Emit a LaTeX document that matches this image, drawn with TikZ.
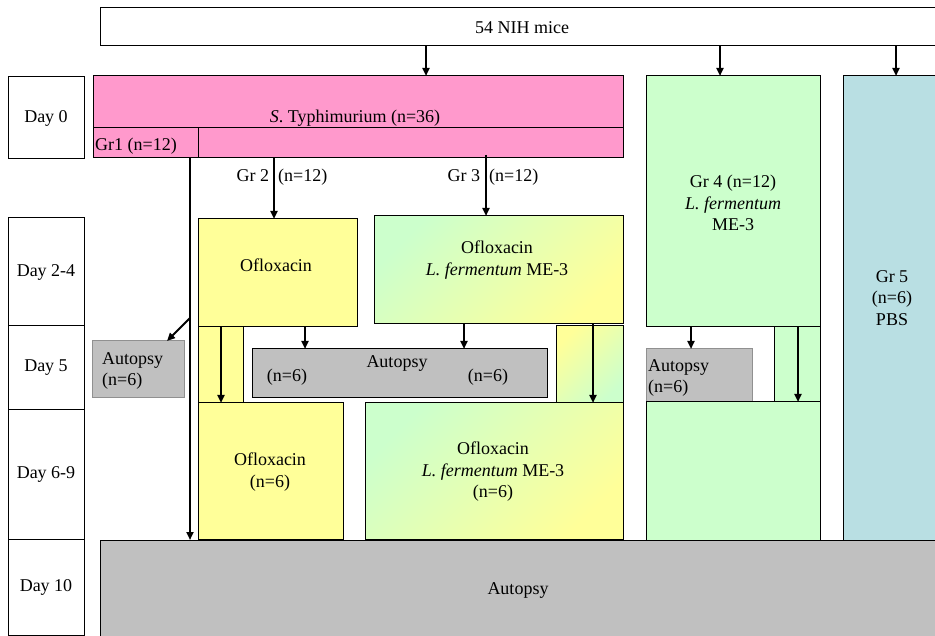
\documentclass[tikz,border=0pt]{standalone}
\usepackage{fontspec}
\setmainfont{Liberation Serif}
\usetikzlibrary{arrows.meta}
\definecolor{cPink}{HTML}{FF99CC}
\definecolor{cYellow}{HTML}{FFFF99}
\definecolor{cGreen}{HTML}{CCFFCC}
\definecolor{cBlue}{HTML}{B9DFE3}
\definecolor{cGray}{HTML}{C0C0C0}
\definecolor{cGrayLine}{HTML}{909090}
\tikzset{
  box/.style={draw=black, line width=1pt, inner sep=0pt, outer sep=0pt, anchor=north west},
  pinkbox/.style={box, fill=cPink},
  yelbox/.style={box, fill=cYellow},
  grnbox/.style={box, fill=cGreen},
  bluebox/.style={box, fill=cBlue},
  graybox/.style={box, fill=cGray},
  lgraybox/.style={box, fill=cGray, draw=cGrayLine},
  gradGY/.style={box, top color=cGreen, bottom color=cYellow, shading angle=45},
  gradYG/.style={box, top color=cYellow, bottom color=cGreen, shading angle=45},
  txt/.style={font=\fontsize{18pt}{21.5pt}\selectfont, inner sep=0pt, align=center},
  ltxt/.style={txt, align=left, anchor=west},
  arr/.style={line width=2pt, -{Triangle[length=8pt,width=7pt]}},
}
\begin{document}
\begin{tikzpicture}[x=1pt,y=-1pt]
\useasboundingbox (0,0) rectangle (935,636);
\clip (0,0) rectangle (935,636);
% top box
\node[box, minimum width=845, minimum height=38] (mice) at (100,8) {};
\node[txt] (miceT) at (522,28) {54 NIH mice};
% day column
\node[box, minimum width=76, minimum height=82] (d0) at (8,77) {};
\node[box, minimum width=76, minimum height=108] (d24) at (8,218) {};
\node[box, minimum width=76, minimum height=84] (d5) at (8,326) {};
\node[box, minimum width=76, minimum height=129] (d69) at (8,410) {};
\node[box, minimum width=76, minimum height=96] (d10) at (8,539) {};
\node[txt] at (d0.center) {Day 0};
\node[txt] at (d24.center) {Day 2-4};
\node[txt] at (d5.center) {Day 5};
\node[txt] at (d69.center) {Day 6-9};
\node[txt] at (d10.center) {Day 10};
% pink
\node[pinkbox, minimum width=530, minimum height=82] (pink) at (93,76) {};
\coordinate (pdivL) at (93,128);
\coordinate (pdivR) at (623,128);
\coordinate (pdivV) at (198,128);
\draw[line width=1pt] (pdivL) -- (pdivR);
\draw[line width=1pt] (pdivV) -- (pdivV |- pink.south);
\node[txt] (pinkT) at (355,118) {\textit{S}. Typhimurium (n=36)};
\node[ltxt] (gr1T) at (95,146) {Gr1 (n=12)};
% Gr4, Gr5
\node[grnbox, minimum width=174, minimum height=251] (g4a) at (646,76) {};
\node[txt] (g4aT) at (733,203) {Gr 4 (n=12)\\\textit{L. fermentum}\\ME-3};
\node[bluebox, minimum width=102, minimum height=464] (g5) at (843,76) {};
\node[txt] (g5T) at (892,298) {Gr 5\\(n=6)\\PBS};
% Gr2 / Gr3 day 2-4
\node[yelbox, minimum width=159, minimum height=108] (g2a) at (198,219) {};
\node[txt] (g2aT) at (276,265) {Ofloxacin};
\node[gradGY, minimum width=249, minimum height=108] (g3a) at (374,216) {};
\node[txt] (g3aT) at (497,260) {Ofloxacin\\\textit{L. fermentum} ME-3};
\node[txt] (gr2T) at (282,177) {Gr 2 \ (n=12)};
\node[txt] (gr3T) at (493,177) {Gr 3 \ (n=12)};
% day 5
\node[yelbox, minimum width=45, minimum height=76] (g2s) at (198,327) {};
\node[gradYG, minimum width=67, minimum height=77] (g3s) at (556,326) {};
\node[grnbox, minimum width=46, minimum height=75] (g4s) at (774,327) {};
\node[lgraybox, minimum width=92, minimum height=57] (a5l) at (92,341) {};
\node[ltxt] (a5lT) at (102,371) {Autopsy\\(n=6)};
\node[graybox, minimum width=295, minimum height=49] (a5m) at (252,349) {};
\node[txt] (a5mT) at (397,364) {Autopsy};
\node[txt] (a5mL) at (287,377) {(n=6)};
\node[txt] (a5mR) at (488,377) {(n=6)};
\node[lgraybox, minimum width=106, minimum height=53] (a4) at (646,349) {};
\node[ltxt] (a4T) at (648,378) {Autopsy\\(n=6)};
% day 6-9
\node[yelbox, minimum width=145, minimum height=136] (g2b) at (198,403) {};
\node[txt] (g2bT) at (270,472) {Ofloxacin\\(n=6)};
\node[gradGY, minimum width=258, minimum height=136] (g3b) at (365,403) {};
\node[txt] (g3bT) at (493,472) {Ofloxacin\\\textit{L. fermentum} ME-3\\(n=6)};
\node[grnbox, minimum width=174, minimum height=138] (g4b) at (646,402) {};
% day 10
\node[graybox, minimum width=845, minimum height=110] (a10) at (100,540) {};
\node[txt] (a10T) at (518,590) {Autopsy};
% arrow x positions
\coordinate (xA) at (426,0);
\coordinate (xB) at (720,0);
\coordinate (xC) at (896,0);
\coordinate (xG1) at (190,0);
\coordinate (xG2) at (274,0);
\coordinate (xG3) at (486,0);
\coordinate (xS2) at (221,0);
\coordinate (xM2) at (305,0);
\coordinate (xM3) at (464,0);
\coordinate (xS3) at (593,0);
\coordinate (xM4) at (691,0);
\coordinate (xS4) at (798,0);
\coordinate (diagS) at (190,318);
\coordinate (diagE) at (167,341);
% arrows
\draw[arr] (mice.south -| xA) -- (pink.north -| xA);
\draw[arr] (mice.south -| xB) -- (g4a.north -| xB);
\draw[arr] (mice.south -| xC) -- (g5.north -| xC);
\draw[arr] (pink.south -| xG1) -- (a10.north -| xG1);
\draw[arr] (diagS) -- (diagE);
\draw[arr] (pink.south -| xG2) -- (g2a.north -| xG2);
\draw[arr] ([yshift=3pt]pink.south -| xG3) -- (g3a.north -| xG3);
\draw[arr] (g2a.south -| xS2) -- (g2b.north -| xS2);
\draw[arr] (g2a.south -| xM2) -- (a5m.north -| xM2);
\draw[arr] (g3a.south -| xM3) -- (a5m.north -| xM3);
\draw[arr] (g3a.south -| xS3) -- (g3b.north -| xS3);
\draw[arr] (g4a.south -| xM4) -- (a4.north -| xM4);
\draw[arr] (g4a.south -| xS4) -- (g4b.north -| xS4);
\end{tikzpicture}
\end{document}
